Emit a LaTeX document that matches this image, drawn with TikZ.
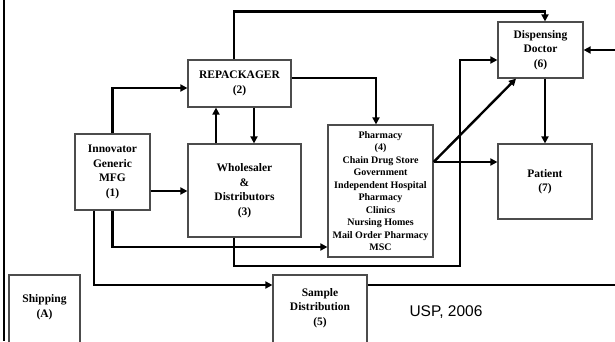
\documentclass[tikz,border=0pt]{standalone}
\usepackage{fontspec}
\setmainfont{Liberation Serif}
\newfontfamily\uspfont{Liberation Sans}
\usetikzlibrary{arrows.meta}

\tikzset{
  box/.style={draw=black!70, line width=1.2pt, fill=white, align=center, inner sep=0pt,
    font=\fontsize{11.5}{14.5}\selectfont\bfseries},
  smallbox/.style={box, font=\fontsize{10}{12.5}\selectfont\bfseries},
  arr/.style={line width=2.4pt, -{Triangle[length=7pt,width=7pt]}},
  flow/.style={line width=2.4pt},
}

\begin{document}
\begin{tikzpicture}[x=1pt,y=-1pt]
\useasboundingbox (0,0) rectangle (615,341);
\clip (0,0) rectangle (615,341);
\fill[white] (0,0) rectangle (615,341);

% left frame edge
\draw[line width=2.6pt] (4,0) -- (4,341);

% boxes
\node[box, minimum width=75pt, minimum height=76pt] (mfg) at (112.5,172) {Innovator\\Generic\\MFG\\(1)};
\node[box, minimum width=103pt, minimum height=47pt] (rep) at (239.5,83.5) {REPACKAGER\\(2)};
\node[box, minimum width=113pt, minimum height=93pt] (whl) at (244.5,190.5) {Wholesaler\\\&\\Distributors\\(3)};
\node[smallbox, minimum width=105pt, minimum height=132pt] (pha) at (380.5,191)
  {Pharmacy\\(4)\\Chain Drug Store\\Government\\Independent Hospital\\Pharmacy\\Clinics\\Nursing Homes\\Mail Order Pharmacy\\MSC};
\node[box, minimum width=85pt, minimum height=56pt] (doc) at (540.5,50) {Dispensing\\Doctor\\(6)};
\node[box, minimum width=94pt, minimum height=75pt] (pat) at (545,181.5) {Patient\\(7)};
\node[box, minimum width=71pt, minimum height=70pt] (shp) at (44.5,310) {Shipping\\(A)\\[-7pt]};
\node[box, minimum width=94pt, minimum height=70pt] (smp) at (320,310) {Sample\\Distribution\\(5)\\[-8.5pt]};

\node[font=\uspfont\fontsize{15.5}{18}\selectfont, anchor=center] (usp) at (446,312) {USP, 2006};

% helper positions for connector lanes
\coordinate (xup) at (216,0);
\coordinate (xdn) at (254,0);
\coordinate (xwh) at (234,0);
\coordinate (xsm) at (94,0);
\coordinate (xdg) at (516,0);
\coordinate (xpt) at (545,0);
\coordinate (ymw) at (0,191);
\coordinate (ymp) at (0,247);
\coordinate (ysm) at (0,285);
\coordinate (ydw) at (0,60);
\coordinate (yph) at (0,162);
\coordinate (bend) at (460,266);
\coordinate (rin) at (615,50);
\coordinate (rout) at (615,285);

% connectors
\draw[arr] (mfg.north) |- ([yshift=-4.5pt]rep.west);
\draw[arr] ([xshift=-5.5pt]rep.north) -- ++(0,-48) -| ([xshift=4.5pt]doc.north);
\draw[arr] ([yshift=5.5pt]rep.east) -| ([xshift=-4.5pt]pha.north);
\draw[arr] (whl.north -| xup) -- (rep.south -| xup);
\draw[arr] (rep.south -| xdn) -- (whl.north -| xdn);
\draw[arr] (mfg.east |- ymw) -- (whl.west |- ymw);
\draw[arr] (mfg.south) |- (pha.west |- ymp);
\draw[arr] (whl.south -| xwh) |- (bend) |- (doc.west |- ydw);
\draw[arr] (mfg.south -| xsm) |- (smp.west |- ysm);
\draw[arr] (pha.east |- yph) -- (doc.south -| xdg);
\draw[arr] (pha.east |- yph) -- (pat.west |- yph);
\draw[arr] (doc.south -| xpt) -- (pat.north -| xpt);
\draw[arr] (rin) -- (doc.east |- rin);
\draw[flow] (smp.east |- ysm) -- (rout);
\end{tikzpicture}
\end{document}
